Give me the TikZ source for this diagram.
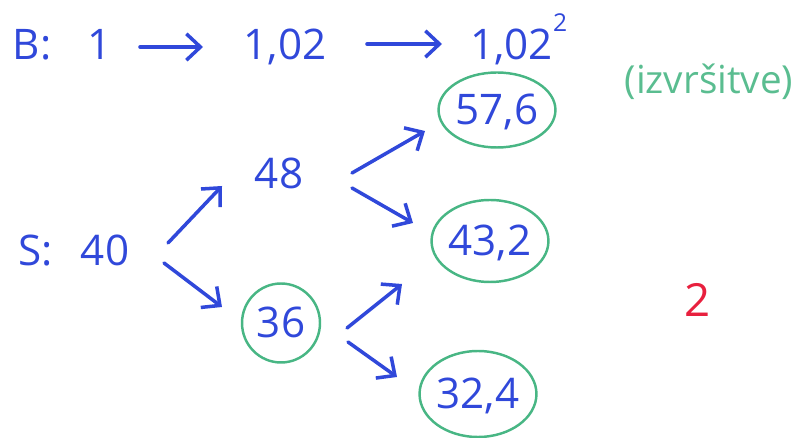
\documentclass[tikz,border=0pt]{standalone}
\usepackage{fontspec}
\setmainfont{Open Sans}
\usepackage{tikz}
\usetikzlibrary{positioning, shapes.geometric, arrows.meta}

\definecolor{penblue}{RGB}{48,72,218}
\definecolor{pengreen}{RGB}{72,182,132}
\definecolor{penred}{RGB}{232,32,62}

\begin{document}
\begin{tikzpicture}[
    x=0.02cm, y=-0.02cm,
    val/.style={inner sep=0pt, text height=17pt, text depth=0pt, text=penblue, font=\fontsize{24}{28}\selectfont},
    circled/.style={val, ellipse, draw=pengreen, line width=1.4pt},
    arr/.style={draw=penblue, line width=2pt, line cap=round, -{Straight Barb[length=8pt, width=15pt, line width=2pt]}}
]
    \useasboundingbox (0,0) rectangle (801,438);

    % bond
    \node[val] (bl) at (32,45) {B:};
    \node[val] (b0) at (100,45) {1};
    \node[val] (b1) at (285,45) {1,02};
    \node[val, anchor=west] (b2) at (470,45) {1,02\raisebox{16pt}{\fontsize{14}{14}\selectfont 2}};

    % stock
    \node[val] (sl) at (36,251) {S:};
    \node[val] (s0) at (105,251) {40};
    \node[val] (u) at (279,174) {48};
    \node[circled, minimum width=1.56cm, minimum height=1.58cm] (d) at (281,323) {36};
    \node[circled, minimum width=1.98cm, minimum height=1.5cm] (uu) at (497,110) {57,6};
    \node[circled, minimum width=2cm, minimum height=1.64cm] (ud) at (490,241) {43,2};
    \node[circled, minimum width=1.94cm, minimum height=1.72cm] (dd) at (478,394) {32,4};

    \node[text=pengreen!90!white, font=\fontsize{22}{26}\selectfont] (note) at (709,82) {(izvršitve)};
    \node[text=penred, font=\fontsize{26}{30}\selectfont] (page) at (698,300) {2};

    \draw[arr] ([shift={(40,2)}]b0.center) -- ([shift={(-82,2)}]b1.center);
    \draw[arr] ([shift={(82,-1)}]b1.center) -- ([shift={(-28,-1)}]b2.west);

    \draw[arr] ([shift={(63,-8)}]s0.center) -- ([shift={(-57,12)}]u.center);
    \draw[arr] ([shift={(59,12)}]s0.center) -- ([shift={(-59,-16)}]d.center);
    \draw[arr] ([shift={(73,-1)}]u.center) -- ([shift={(-72,21)}]uu.center);
    \draw[arr] ([shift={(73,14)}]u.center) -- ([shift={(-77,-18)}]ud.center);
    \draw[arr] ([shift={(66,5)}]d.center) -- ([shift={(-88,43)}]ud.center);
    \draw[arr] ([shift={(67,19)}]d.center) -- ([shift={(-81,-17)}]dd.center);
\end{tikzpicture}
\end{document}
